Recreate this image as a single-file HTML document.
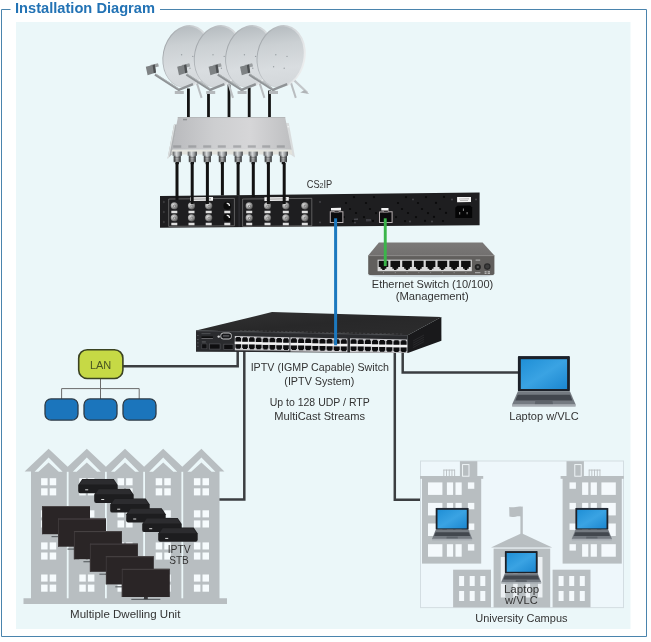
<!DOCTYPE html>
<html>
<head>
<meta charset="utf-8">
<title>Installation Diagram</title>
<style>
html,body{margin:0;padding:0;background:#fff;}
body{width:651px;height:642px;overflow:hidden;position:relative;font-family:"Liberation Sans",sans-serif;}
svg{position:absolute;left:0;top:0;display:block;will-change:transform;}
text{font-family:"Liberation Sans",sans-serif;}
.lbl{font-size:11.5px;fill:#3a3a3a;text-anchor:middle;}
</style>
</head>
<body>
<svg width="651" height="642" viewBox="0 0 651 642">
<defs>
<linearGradient id="scr" x1="0" y1="0" x2="1" y2="1">
<stop offset="0" stop-color="#1f8fd6"/><stop offset="0.5" stop-color="#3aa3e3"/><stop offset="1" stop-color="#1b86cf"/>
</linearGradient>
</defs>
<!-- 01_frame.svg -->
<rect x="0" y="0" width="651" height="642" fill="#ffffff"/>
<path d="M10.5 9.5 H1.5 V636.5 H646.5 V9.5 H160" fill="none" stroke="#4a84ad" stroke-width="1"/>
<rect x="16" y="22" width="614.5" height="607" fill="#ebf7f9"/>
<text x="15" y="12.8" font-size="14.2" font-weight="bold" fill="#2373b5" textLength="140" lengthAdjust="spacingAndGlyphs">Installation Diagram</text>

<!-- 10_lines.svg -->
<g fill="none" stroke="#3b3e41" stroke-width="2.5" stroke-linejoin="miter">
<path d="M237.7 349 V366.3 H123"/>
<path d="M244.3 349 V499.5 H219"/>
<path d="M402.7 351 V372.6 H518"/>
<path d="M394.8 351 V499.8 H420"/>
</g>

<!-- 20_lan.svg -->
<g fill="none" stroke="#6b6b6b" stroke-width="1">
<path d="M100.5 379 V388.6 M61.6 399 V388.6 H139.2 V399 M100.5 388.6 V399"/>
</g>
<rect x="78.7" y="349.7" width="44.2" height="28.8" rx="8.5" ry="8.5" fill="#c6d945" stroke="#3b4322" stroke-width="1.6"/>
<text x="100.6" y="369" font-size="11" fill="#4a5522" text-anchor="middle">LAN</text>
<g fill="#1b75bc" stroke="#2b3a47" stroke-width="1.3">
<rect x="45" y="398.9" width="33" height="21.2" rx="6" ry="6"/>
<rect x="84" y="398.9" width="33" height="21.2" rx="6" ry="6"/>
<rect x="123" y="398.9" width="33" height="21.2" rx="6" ry="6"/>
</g>

<!-- 30_mdu.svg -->
<g>
<polygon points="24.6,471.6 48.6,448.8 67.7,466.7 86.8,448.8 105.9,466.7 125.0,448.8 144.1,466.7 163.2,448.8 182.3,466.7 201.4,448.8 224.4,471.6 219.5,471.6 219.5,598.3 227.0,598.3 227.0,604.0 23.5,604.0 23.5,598.3 31.0,598.3 31.0,471.6" fill="#b8bec1"/>
<polygon points="34.6,471.8 48.6,457.6 62.6,471.8 58.8,471.8 48.6,462.5 38.4,471.8" fill="#ebf7f9"/>
<polygon points="72.8,471.8 86.8,457.6 100.8,471.8 97.0,471.8 86.8,462.5 76.6,471.8" fill="#ebf7f9"/>
<polygon points="111.0,471.8 125.0,457.6 139.0,471.8 135.2,471.8 125.0,462.5 114.8,471.8" fill="#ebf7f9"/>
<polygon points="149.2,471.8 163.2,457.6 177.2,471.8 173.4,471.8 163.2,462.5 153.0,471.8" fill="#ebf7f9"/>
<polygon points="187.4,471.8 201.4,457.6 215.4,471.8 211.6,471.8 201.4,462.5 191.2,471.8" fill="#ebf7f9"/>
<rect x="66.8" y="471.8" width="1.8" height="126.5" fill="#ebf7f9"/>
<rect x="105.0" y="471.8" width="1.8" height="126.5" fill="#ebf7f9"/>
<rect x="143.2" y="471.8" width="1.8" height="126.5" fill="#ebf7f9"/>
<rect x="181.4" y="471.8" width="1.8" height="126.5" fill="#ebf7f9"/>
<rect x="41.1" y="478.2" width="6.5" height="7.1" fill="#f6fbfd"/>
<rect x="41.1" y="488.3" width="6.5" height="7.1" fill="#f6fbfd"/>
<rect x="49.7" y="478.2" width="6.5" height="7.1" fill="#f6fbfd"/>
<rect x="49.7" y="488.3" width="6.5" height="7.1" fill="#f6fbfd"/>
<rect x="41.1" y="510.3" width="6.5" height="7.1" fill="#f6fbfd"/>
<rect x="41.1" y="520.4" width="6.5" height="7.1" fill="#f6fbfd"/>
<rect x="49.7" y="510.3" width="6.5" height="7.1" fill="#f6fbfd"/>
<rect x="49.7" y="520.4" width="6.5" height="7.1" fill="#f6fbfd"/>
<rect x="41.1" y="542.4" width="6.5" height="7.1" fill="#f6fbfd"/>
<rect x="41.1" y="552.5" width="6.5" height="7.1" fill="#f6fbfd"/>
<rect x="49.7" y="542.4" width="6.5" height="7.1" fill="#f6fbfd"/>
<rect x="49.7" y="552.5" width="6.5" height="7.1" fill="#f6fbfd"/>
<rect x="41.1" y="574.5" width="6.5" height="7.1" fill="#f6fbfd"/>
<rect x="41.1" y="584.6" width="6.5" height="7.1" fill="#f6fbfd"/>
<rect x="49.7" y="574.5" width="6.5" height="7.1" fill="#f6fbfd"/>
<rect x="49.7" y="584.6" width="6.5" height="7.1" fill="#f6fbfd"/>
<rect x="79.3" y="478.2" width="6.5" height="7.1" fill="#f6fbfd"/>
<rect x="79.3" y="488.3" width="6.5" height="7.1" fill="#f6fbfd"/>
<rect x="87.9" y="478.2" width="6.5" height="7.1" fill="#f6fbfd"/>
<rect x="87.9" y="488.3" width="6.5" height="7.1" fill="#f6fbfd"/>
<rect x="79.3" y="510.3" width="6.5" height="7.1" fill="#f6fbfd"/>
<rect x="79.3" y="520.4" width="6.5" height="7.1" fill="#f6fbfd"/>
<rect x="87.9" y="510.3" width="6.5" height="7.1" fill="#f6fbfd"/>
<rect x="87.9" y="520.4" width="6.5" height="7.1" fill="#f6fbfd"/>
<rect x="79.3" y="542.4" width="6.5" height="7.1" fill="#f6fbfd"/>
<rect x="79.3" y="552.5" width="6.5" height="7.1" fill="#f6fbfd"/>
<rect x="87.9" y="542.4" width="6.5" height="7.1" fill="#f6fbfd"/>
<rect x="87.9" y="552.5" width="6.5" height="7.1" fill="#f6fbfd"/>
<rect x="79.3" y="574.5" width="6.5" height="7.1" fill="#f6fbfd"/>
<rect x="79.3" y="584.6" width="6.5" height="7.1" fill="#f6fbfd"/>
<rect x="87.9" y="574.5" width="6.5" height="7.1" fill="#f6fbfd"/>
<rect x="87.9" y="584.6" width="6.5" height="7.1" fill="#f6fbfd"/>
<rect x="117.5" y="478.2" width="6.5" height="7.1" fill="#f6fbfd"/>
<rect x="117.5" y="488.3" width="6.5" height="7.1" fill="#f6fbfd"/>
<rect x="126.1" y="478.2" width="6.5" height="7.1" fill="#f6fbfd"/>
<rect x="126.1" y="488.3" width="6.5" height="7.1" fill="#f6fbfd"/>
<rect x="117.5" y="510.3" width="6.5" height="7.1" fill="#f6fbfd"/>
<rect x="117.5" y="520.4" width="6.5" height="7.1" fill="#f6fbfd"/>
<rect x="126.1" y="510.3" width="6.5" height="7.1" fill="#f6fbfd"/>
<rect x="126.1" y="520.4" width="6.5" height="7.1" fill="#f6fbfd"/>
<rect x="117.5" y="542.4" width="6.5" height="7.1" fill="#f6fbfd"/>
<rect x="117.5" y="552.5" width="6.5" height="7.1" fill="#f6fbfd"/>
<rect x="126.1" y="542.4" width="6.5" height="7.1" fill="#f6fbfd"/>
<rect x="126.1" y="552.5" width="6.5" height="7.1" fill="#f6fbfd"/>
<rect x="117.5" y="574.5" width="6.5" height="7.1" fill="#f6fbfd"/>
<rect x="117.5" y="584.6" width="6.5" height="7.1" fill="#f6fbfd"/>
<rect x="126.1" y="574.5" width="6.5" height="7.1" fill="#f6fbfd"/>
<rect x="126.1" y="584.6" width="6.5" height="7.1" fill="#f6fbfd"/>
<rect x="155.7" y="478.2" width="6.5" height="7.1" fill="#f6fbfd"/>
<rect x="155.7" y="488.3" width="6.5" height="7.1" fill="#f6fbfd"/>
<rect x="164.3" y="478.2" width="6.5" height="7.1" fill="#f6fbfd"/>
<rect x="164.3" y="488.3" width="6.5" height="7.1" fill="#f6fbfd"/>
<rect x="155.7" y="510.3" width="6.5" height="7.1" fill="#f6fbfd"/>
<rect x="155.7" y="520.4" width="6.5" height="7.1" fill="#f6fbfd"/>
<rect x="164.3" y="510.3" width="6.5" height="7.1" fill="#f6fbfd"/>
<rect x="164.3" y="520.4" width="6.5" height="7.1" fill="#f6fbfd"/>
<rect x="155.7" y="542.4" width="6.5" height="7.1" fill="#f6fbfd"/>
<rect x="155.7" y="552.5" width="6.5" height="7.1" fill="#f6fbfd"/>
<rect x="164.3" y="542.4" width="6.5" height="7.1" fill="#f6fbfd"/>
<rect x="164.3" y="552.5" width="6.5" height="7.1" fill="#f6fbfd"/>
<rect x="155.7" y="574.5" width="6.5" height="7.1" fill="#f6fbfd"/>
<rect x="155.7" y="584.6" width="6.5" height="7.1" fill="#f6fbfd"/>
<rect x="164.3" y="574.5" width="6.5" height="7.1" fill="#f6fbfd"/>
<rect x="164.3" y="584.6" width="6.5" height="7.1" fill="#f6fbfd"/>
<rect x="193.9" y="478.2" width="6.5" height="7.1" fill="#f6fbfd"/>
<rect x="193.9" y="488.3" width="6.5" height="7.1" fill="#f6fbfd"/>
<rect x="202.5" y="478.2" width="6.5" height="7.1" fill="#f6fbfd"/>
<rect x="202.5" y="488.3" width="6.5" height="7.1" fill="#f6fbfd"/>
<rect x="193.9" y="510.3" width="6.5" height="7.1" fill="#f6fbfd"/>
<rect x="193.9" y="520.4" width="6.5" height="7.1" fill="#f6fbfd"/>
<rect x="202.5" y="510.3" width="6.5" height="7.1" fill="#f6fbfd"/>
<rect x="202.5" y="520.4" width="6.5" height="7.1" fill="#f6fbfd"/>
<rect x="193.9" y="542.4" width="6.5" height="7.1" fill="#f6fbfd"/>
<rect x="193.9" y="552.5" width="6.5" height="7.1" fill="#f6fbfd"/>
<rect x="202.5" y="542.4" width="6.5" height="7.1" fill="#f6fbfd"/>
<rect x="202.5" y="552.5" width="6.5" height="7.1" fill="#f6fbfd"/>
<rect x="193.9" y="574.5" width="6.5" height="7.1" fill="#f6fbfd"/>
<rect x="193.9" y="584.6" width="6.5" height="7.1" fill="#f6fbfd"/>
<rect x="202.5" y="574.5" width="6.5" height="7.1" fill="#f6fbfd"/>
<rect x="202.5" y="584.6" width="6.5" height="7.1" fill="#f6fbfd"/>
<path d="M82.2 479.0 H113.7 L117.7 485.0 V491.0 Q117.7 493.2 115.7 493.2 H80.2 Q78.2 493.2 78.2 491.0 V485.0 Z" fill="#1d1d1f"/>
<path d="M82.7 479.6 H113.2 L116.5 484.6 H79.4 Z" fill="#2c2c2f"/>
<rect x="85.2" y="489.3" width="3" height="1" fill="#d8d8d8"/>
<path d="M98.2 488.7 H129.7 L133.7 494.7 V500.7 Q133.7 502.9 131.7 502.9 H96.2 Q94.2 502.9 94.2 500.7 V494.7 Z" fill="#1d1d1f"/>
<path d="M98.7 489.3 H129.2 L132.5 494.3 H95.4 Z" fill="#2c2c2f"/>
<rect x="101.2" y="499.0" width="3" height="1" fill="#d8d8d8"/>
<path d="M114.2 498.4 H145.7 L149.7 504.4 V510.4 Q149.7 512.6 147.7 512.6 H112.2 Q110.2 512.6 110.2 510.4 V504.4 Z" fill="#1d1d1f"/>
<path d="M114.7 499.0 H145.2 L148.5 504.0 H111.4 Z" fill="#2c2c2f"/>
<rect x="117.2" y="508.7" width="3" height="1" fill="#d8d8d8"/>
<path d="M130.2 508.2 H161.7 L165.7 514.2 V520.2 Q165.7 522.4 163.7 522.4 H128.2 Q126.2 522.4 126.2 520.2 V514.2 Z" fill="#1d1d1f"/>
<path d="M130.7 508.8 H161.2 L164.5 513.8 H127.4 Z" fill="#2c2c2f"/>
<rect x="133.2" y="518.5" width="3" height="1" fill="#d8d8d8"/>
<path d="M146.2 517.9 H177.7 L181.7 523.9 V529.9 Q181.7 532.1 179.7 532.1 H144.2 Q142.2 532.1 142.2 529.9 V523.9 Z" fill="#1d1d1f"/>
<path d="M146.7 518.5 H177.2 L180.5 523.5 H143.4 Z" fill="#2c2c2f"/>
<rect x="149.2" y="528.2" width="3" height="1" fill="#d8d8d8"/>
<path d="M162.2 527.6 H193.7 L197.7 533.6 V539.6 Q197.7 541.8 195.7 541.8 H160.2 Q158.2 541.8 158.2 539.6 V533.6 Z" fill="#1d1d1f"/>
<path d="M162.7 528.2 H193.2 L196.5 533.2 H159.4 Z" fill="#2c2c2f"/>
<rect x="165.2" y="537.9" width="3" height="1" fill="#d8d8d8"/>
<rect x="51.5" y="536.0" width="29" height="1.2" fill="#5f6468"/>
<rect x="64.0" y="533.5" width="4" height="3" fill="#3a3a3c"/>
<rect x="42.0" y="506.0" width="48" height="28.2" fill="#2a2526"/>
<rect x="42.0" y="506.0" width="48" height="1" fill="#4a4546"/>
<rect x="42.0" y="506.0" width="0.8" height="28.2" fill="#433e3f"/>
<rect x="67.5" y="548.5" width="29" height="1.2" fill="#5f6468"/>
<rect x="80.0" y="546.0" width="4" height="3" fill="#3a3a3c"/>
<rect x="58.0" y="518.5" width="48" height="28.2" fill="#2a2526"/>
<rect x="58.0" y="518.5" width="48" height="1" fill="#4a4546"/>
<rect x="58.0" y="518.5" width="0.8" height="28.2" fill="#433e3f"/>
<rect x="83.4" y="561.1" width="29" height="1.2" fill="#5f6468"/>
<rect x="95.9" y="558.6" width="4" height="3" fill="#3a3a3c"/>
<rect x="73.9" y="531.1" width="48" height="28.2" fill="#2a2526"/>
<rect x="73.9" y="531.1" width="48" height="1" fill="#4a4546"/>
<rect x="73.9" y="531.1" width="0.8" height="28.2" fill="#433e3f"/>
<rect x="99.4" y="573.6" width="29" height="1.2" fill="#5f6468"/>
<rect x="111.9" y="571.1" width="4" height="3" fill="#3a3a3c"/>
<rect x="89.9" y="543.6" width="48" height="28.2" fill="#2a2526"/>
<rect x="89.9" y="543.6" width="48" height="1" fill="#4a4546"/>
<rect x="89.9" y="543.6" width="0.8" height="28.2" fill="#433e3f"/>
<rect x="115.3" y="586.2" width="29" height="1.2" fill="#5f6468"/>
<rect x="127.8" y="583.7" width="4" height="3" fill="#3a3a3c"/>
<rect x="105.8" y="556.2" width="48" height="28.2" fill="#2a2526"/>
<rect x="105.8" y="556.2" width="48" height="1" fill="#4a4546"/>
<rect x="105.8" y="556.2" width="0.8" height="28.2" fill="#433e3f"/>
<rect x="131.3" y="598.8" width="29" height="1.2" fill="#5f6468"/>
<rect x="143.8" y="596.2" width="4" height="3" fill="#3a3a3c"/>
<rect x="121.8" y="568.8" width="48" height="28.2" fill="#2a2526"/>
<rect x="121.8" y="568.8" width="48" height="1" fill="#4a4546"/>
<rect x="121.8" y="568.8" width="0.8" height="28.2" fill="#433e3f"/>
</g>

<!-- 40_campus.svg -->
<g>
<rect x="420.5" y="461" width="203" height="146.6" fill="#eef7fb" stroke="#d3dde2" stroke-width="1"/>
<rect x="422.0" y="478.0" width="59.2" height="85.6" fill="#b8bec1"/>
<rect x="420.0" y="476.0" width="63.2" height="2.8" fill="#b8bec1"/>
<rect x="459.9" y="461.2" width="17.4" height="15.0" fill="#b8bec1"/>
<rect x="462.6" y="464.6" width="6.4" height="11.6" fill="none" stroke="#f4f9fc" stroke-width="0.9"/>
<rect x="443.4" y="469.6" width="11.6" height="0.9" fill="#b8bec1"/>
<rect x="443.4" y="469.6" width="0.9" height="6.6" fill="#b8bec1"/>
<rect x="446.1" y="469.6" width="0.9" height="6.6" fill="#b8bec1"/>
<rect x="448.8" y="469.6" width="0.9" height="6.6" fill="#b8bec1"/>
<rect x="451.5" y="469.6" width="0.9" height="6.6" fill="#b8bec1"/>
<rect x="454.2" y="469.6" width="0.9" height="6.6" fill="#b8bec1"/>
<rect x="428.0" y="482.4" width="14.4" height="12.5" fill="#f4f9fc"/>
<rect x="446.9" y="482.4" width="6.2" height="12.5" fill="#f4f9fc"/>
<rect x="455.5" y="482.4" width="6.2" height="12.5" fill="#f4f9fc"/>
<rect x="467.9" y="482.4" width="6.4" height="6.4" fill="#f4f9fc"/>
<rect x="428.0" y="502.9" width="14.4" height="12.5" fill="#f4f9fc"/>
<rect x="446.9" y="502.9" width="6.2" height="12.5" fill="#f4f9fc"/>
<rect x="455.5" y="502.9" width="6.2" height="12.5" fill="#f4f9fc"/>
<rect x="467.9" y="502.9" width="6.4" height="6.4" fill="#f4f9fc"/>
<rect x="428.0" y="523.5" width="14.4" height="12.5" fill="#f4f9fc"/>
<rect x="446.9" y="523.5" width="6.2" height="12.5" fill="#f4f9fc"/>
<rect x="455.5" y="523.5" width="6.2" height="12.5" fill="#f4f9fc"/>
<rect x="467.9" y="523.5" width="6.4" height="6.4" fill="#f4f9fc"/>
<rect x="428.0" y="544.2" width="14.4" height="12.5" fill="#f4f9fc"/>
<rect x="446.9" y="544.2" width="6.2" height="12.5" fill="#f4f9fc"/>
<rect x="455.5" y="544.2" width="6.2" height="12.5" fill="#f4f9fc"/>
<rect x="467.9" y="544.2" width="6.4" height="6.4" fill="#f4f9fc"/>
<rect x="562.6" y="478.0" width="59.2" height="85.6" fill="#b8bec1"/>
<rect x="560.6" y="476.0" width="63.2" height="2.8" fill="#b8bec1"/>
<rect x="566.5" y="461.2" width="17.4" height="15.0" fill="#b8bec1"/>
<rect x="574.8" y="464.6" width="6.4" height="11.6" fill="none" stroke="#f4f9fc" stroke-width="0.9"/>
<rect x="588.8" y="469.6" width="11.6" height="0.9" fill="#b8bec1"/>
<rect x="599.5" y="469.6" width="0.9" height="6.6" fill="#b8bec1"/>
<rect x="596.8" y="469.6" width="0.9" height="6.6" fill="#b8bec1"/>
<rect x="594.1" y="469.6" width="0.9" height="6.6" fill="#b8bec1"/>
<rect x="591.4" y="469.6" width="0.9" height="6.6" fill="#b8bec1"/>
<rect x="588.7" y="469.6" width="0.9" height="6.6" fill="#b8bec1"/>
<rect x="601.4" y="482.4" width="14.4" height="12.5" fill="#f4f9fc"/>
<rect x="590.7" y="482.4" width="6.2" height="12.5" fill="#f4f9fc"/>
<rect x="582.1" y="482.4" width="6.2" height="12.5" fill="#f4f9fc"/>
<rect x="569.5" y="482.4" width="6.4" height="6.4" fill="#f4f9fc"/>
<rect x="601.4" y="502.9" width="14.4" height="12.5" fill="#f4f9fc"/>
<rect x="590.7" y="502.9" width="6.2" height="12.5" fill="#f4f9fc"/>
<rect x="582.1" y="502.9" width="6.2" height="12.5" fill="#f4f9fc"/>
<rect x="569.5" y="502.9" width="6.4" height="6.4" fill="#f4f9fc"/>
<rect x="601.4" y="523.5" width="14.4" height="12.5" fill="#f4f9fc"/>
<rect x="590.7" y="523.5" width="6.2" height="12.5" fill="#f4f9fc"/>
<rect x="582.1" y="523.5" width="6.2" height="12.5" fill="#f4f9fc"/>
<rect x="569.5" y="523.5" width="6.4" height="6.4" fill="#f4f9fc"/>
<rect x="601.4" y="544.2" width="14.4" height="12.5" fill="#f4f9fc"/>
<rect x="590.7" y="544.2" width="6.2" height="12.5" fill="#f4f9fc"/>
<rect x="582.1" y="544.2" width="6.2" height="12.5" fill="#f4f9fc"/>
<rect x="569.5" y="544.2" width="6.4" height="6.4" fill="#f4f9fc"/>
<rect x="453.1" y="569.7" width="37.9" height="37.6" fill="#b8bec1"/>
<rect x="459.1" y="576.0" width="5" height="10" fill="#f4f9fc"/>
<rect x="459.1" y="591.0" width="5" height="10" fill="#f4f9fc"/>
<rect x="469.7" y="576.0" width="5" height="10" fill="#f4f9fc"/>
<rect x="469.7" y="591.0" width="5" height="10" fill="#f4f9fc"/>
<rect x="480.3" y="576.0" width="5" height="10" fill="#f4f9fc"/>
<rect x="480.3" y="591.0" width="5" height="10" fill="#f4f9fc"/>
<rect x="552.6" y="569.7" width="37.9" height="37.6" fill="#b8bec1"/>
<rect x="558.6" y="576.0" width="5" height="10" fill="#f4f9fc"/>
<rect x="558.6" y="591.0" width="5" height="10" fill="#f4f9fc"/>
<rect x="569.2" y="576.0" width="5" height="10" fill="#f4f9fc"/>
<rect x="569.2" y="591.0" width="5" height="10" fill="#f4f9fc"/>
<rect x="579.8" y="576.0" width="5" height="10" fill="#f4f9fc"/>
<rect x="579.8" y="591.0" width="5" height="10" fill="#f4f9fc"/>
<rect x="520.4" y="506.6" width="2.4" height="27.5" fill="#b8bec1"/>
<path d="M521 506.8 C518 505.6 514 508.2 509.2 507 L509.4 516.6 C514 517.8 518 515.2 521 516.6 Z" fill="#b8bec1"/>
<polygon points="521.6,533.2 552.2,547.4 491,547.4" fill="#b8bec1"/>
<rect x="493.6" y="548.6" width="56.6" height="58.8" fill="#b8bec1"/>
<rect x="500.8" y="557" width="4.5" height="40.5" fill="#f4f9fc" opacity="0.85"/>
<rect x="513.2" y="557" width="4.5" height="40.5" fill="#f4f9fc" opacity="0.85"/>
<rect x="525.6" y="557" width="4.5" height="40.5" fill="#f4f9fc" opacity="0.85"/>
<rect x="538.0" y="557" width="4.5" height="40.5" fill="#f4f9fc" opacity="0.85"/>
<rect x="435.7" y="507.9" width="32.9" height="21.9" rx="0.7" fill="#1c2129"/>
<rect x="436.7" y="507.9" width="30.9" height="0.5" fill="#3a4656" opacity="0.7"/>
<rect x="437.5" y="509.8" width="29.3" height="18.6" fill="url(#scr)"/>
<polygon points="435.7,529.8 468.6,529.8 472.3,539.0 432.0,539.0" fill="#747a81"/>
<polygon points="435.6,532.2 468.7,532.2 470.2,536.1 434.1,536.1" fill="#42474e"/>
<polygon points="446.7,536.4 457.6,536.4 457.9,538.7 446.4,538.7" fill="#5d636a"/>
<rect x="432.0" y="538.8" width="40.3" height="1.6" rx="0.6" fill="#a7adb3"/>
<rect x="575.4" y="507.9" width="32.9" height="21.9" rx="0.7" fill="#1c2129"/>
<rect x="576.4" y="507.9" width="30.9" height="0.5" fill="#3a4656" opacity="0.7"/>
<rect x="577.2" y="509.8" width="29.3" height="18.6" fill="url(#scr)"/>
<polygon points="575.4,529.8 608.3,529.8 612.0,539.0 571.7,539.0" fill="#747a81"/>
<polygon points="575.3,532.2 608.4,532.2 609.9,536.1 573.8,536.1" fill="#42474e"/>
<polygon points="586.4,536.4 597.3,536.4 597.6,538.7 586.1,538.7" fill="#5d636a"/>
<rect x="571.7" y="538.8" width="40.3" height="1.6" rx="0.6" fill="#a7adb3"/>
<rect x="504.9" y="551.1" width="32.7" height="22.1" rx="0.7" fill="#1c2129"/>
<rect x="505.9" y="551.1" width="30.7" height="0.5" fill="#3a4656" opacity="0.7"/>
<rect x="506.7" y="553.0" width="29.1" height="18.8" fill="url(#scr)"/>
<polygon points="504.9,573.2 537.6,573.2 541.4,582.4 501.1,582.4" fill="#747a81"/>
<polygon points="504.8,575.6 537.7,575.6 539.2,579.5 503.3,579.5" fill="#42474e"/>
<polygon points="515.9,579.8 526.6,579.8 527.0,582.1 515.5,582.1" fill="#5d636a"/>
<rect x="501.1" y="582.2" width="40.2" height="1.6" rx="0.6" fill="#a7adb3"/>
</g>

<!-- 45_laptop.svg -->
<g>
<rect x="517.9" y="356.1" width="52.0" height="35.1" rx="1.0" fill="#1c2129"/>
<rect x="519.5" y="356.1" width="48.9" height="0.7" fill="#3a4656" opacity="0.7"/>
<rect x="520.8" y="359.2" width="46.3" height="29.8" fill="url(#scr)"/>
<polygon points="517.9,391.2 569.9,391.2 575.8,404.7 512.0,404.7" fill="#747a81"/>
<polygon points="517.7,394.7 570.1,394.7 572.4,400.4 515.4,400.4" fill="#42474e"/>
<polygon points="535.3,400.9 552.5,400.9 553.0,404.3 534.8,404.3" fill="#5d636a"/>
<rect x="512.0" y="404.5" width="63.8" height="2.2" rx="0.6" fill="#a7adb3"/>
</g>

<!-- 50_rack.svg -->
<g>
<defs>
<radialGradient id="fcon" cx="0.4" cy="0.4" r="0.6"><stop offset="0" stop-color="#e6e6e6"/><stop offset="0.5" stop-color="#adadad"/><stop offset="1" stop-color="#5c5c5c"/></radialGradient>
</defs>
<polygon points="160,196 479.6,192.4 479.6,225.2 160,227.7" fill="#1e1e20"/>
<g transform="translate(160,0) skewY(-0.55) translate(-160,0)">
<ellipse cx="163.8" cy="202.0" rx="1" ry="1.3" fill="#3a3a3c"/>
<ellipse cx="163.8" cy="212.0" rx="1" ry="1.3" fill="#3a3a3c"/>
<ellipse cx="163.8" cy="222.0" rx="1" ry="1.3" fill="#3a3a3c"/>
<rect x="168.7" y="199.1" width="65.7" height="27.4" fill="none" stroke="#8a8a8a" stroke-width="0.6"/>
<rect x="190.2" y="197.5" width="22.8" height="3.8" fill="#f4f4f4"/>
<rect x="192.2" y="199.0" width="18.8" height="0.8" fill="#777"/>
<circle cx="174.3" cy="205.9" r="3.6" fill="url(#fcon)"/>
<circle cx="174.6" cy="206.2" r="1.5" fill="#7c7c7c"/>
<circle cx="174.6" cy="206.2" r="0.6" fill="#e8e8e8"/>
<rect x="171.3" y="210.9" width="6" height="2.4" fill="#dedede"/>
<circle cx="174.3" cy="217.9" r="3.6" fill="url(#fcon)"/>
<circle cx="174.6" cy="218.2" r="1.5" fill="#7c7c7c"/>
<circle cx="174.6" cy="218.2" r="0.6" fill="#e8e8e8"/>
<rect x="171.3" y="222.9" width="6" height="2.4" fill="#dedede"/>
<circle cx="191.5" cy="206.1" r="3.6" fill="url(#fcon)"/>
<circle cx="191.8" cy="206.4" r="1.5" fill="#7c7c7c"/>
<circle cx="191.8" cy="206.4" r="0.6" fill="#e8e8e8"/>
<rect x="188.5" y="211.1" width="6" height="2.4" fill="#dedede"/>
<circle cx="191.5" cy="218.1" r="3.6" fill="url(#fcon)"/>
<circle cx="191.8" cy="218.4" r="1.5" fill="#7c7c7c"/>
<circle cx="191.8" cy="218.4" r="0.6" fill="#e8e8e8"/>
<rect x="188.5" y="223.1" width="6" height="2.4" fill="#dedede"/>
<circle cx="208.7" cy="206.3" r="3.6" fill="url(#fcon)"/>
<circle cx="209.0" cy="206.6" r="1.5" fill="#7c7c7c"/>
<circle cx="209.0" cy="206.6" r="0.6" fill="#e8e8e8"/>
<rect x="205.7" y="211.3" width="6" height="2.4" fill="#dedede"/>
<circle cx="208.7" cy="218.3" r="3.6" fill="url(#fcon)"/>
<circle cx="209.0" cy="218.6" r="1.5" fill="#7c7c7c"/>
<circle cx="209.0" cy="218.6" r="0.6" fill="#e8e8e8"/>
<rect x="205.7" y="223.3" width="6" height="2.4" fill="#dedede"/>
<circle cx="227.3" cy="206.4" r="3.9" fill="#0c0c0c"/>
<path d="M226.7 203.4 a3.2 3.2 0 0 1 3.4 3.2 l-1.3 0 a2 2 0 0 0 -2.1 -1.9 Z" fill="#e8e8e8"/>
<rect x="224.3" y="211.4" width="6" height="2.4" fill="#dedede"/>
<circle cx="227.3" cy="218.4" r="3.9" fill="#0c0c0c"/>
<path d="M226.7 215.4 a3.2 3.2 0 0 1 3.4 3.2 l-1.3 0 a2 2 0 0 0 -2.1 -1.9 Z" fill="#e8e8e8"/>
<rect x="224.3" y="223.4" width="6" height="2.4" fill="#dedede"/>
<rect x="242.6" y="199.8" width="69.2" height="27.4" fill="none" stroke="#8a8a8a" stroke-width="0.6"/>
<rect x="264.4" y="198.2" width="24.4" height="3.8" fill="#f4f4f4"/>
<rect x="266.4" y="199.7" width="20.4" height="0.8" fill="#777"/>
<circle cx="249.2" cy="206.7" r="3.6" fill="url(#fcon)"/>
<circle cx="249.5" cy="207.0" r="1.5" fill="#7c7c7c"/>
<circle cx="249.5" cy="207.0" r="0.6" fill="#e8e8e8"/>
<rect x="246.2" y="211.7" width="6" height="2.4" fill="#dedede"/>
<circle cx="249.2" cy="218.7" r="3.6" fill="url(#fcon)"/>
<circle cx="249.5" cy="219.0" r="1.5" fill="#7c7c7c"/>
<circle cx="249.5" cy="219.0" r="0.6" fill="#e8e8e8"/>
<rect x="246.2" y="223.7" width="6" height="2.4" fill="#dedede"/>
<circle cx="267.5" cy="206.8" r="3.6" fill="url(#fcon)"/>
<circle cx="267.8" cy="207.1" r="1.5" fill="#7c7c7c"/>
<circle cx="267.8" cy="207.1" r="0.6" fill="#e8e8e8"/>
<rect x="264.5" y="211.8" width="6" height="2.4" fill="#dedede"/>
<circle cx="267.5" cy="218.8" r="3.6" fill="url(#fcon)"/>
<circle cx="267.8" cy="219.1" r="1.5" fill="#7c7c7c"/>
<circle cx="267.8" cy="219.1" r="0.6" fill="#e8e8e8"/>
<rect x="264.5" y="223.8" width="6" height="2.4" fill="#dedede"/>
<circle cx="285.8" cy="207.0" r="3.6" fill="url(#fcon)"/>
<circle cx="286.1" cy="207.3" r="1.5" fill="#7c7c7c"/>
<circle cx="286.1" cy="207.3" r="0.6" fill="#e8e8e8"/>
<rect x="282.8" y="212.0" width="6" height="2.4" fill="#dedede"/>
<circle cx="285.8" cy="219.0" r="3.6" fill="url(#fcon)"/>
<circle cx="286.1" cy="219.3" r="1.5" fill="#7c7c7c"/>
<circle cx="286.1" cy="219.3" r="0.6" fill="#e8e8e8"/>
<rect x="282.8" y="224.0" width="6" height="2.4" fill="#dedede"/>
<circle cx="304.8" cy="207.2" r="3.6" fill="url(#fcon)"/>
<circle cx="305.1" cy="207.5" r="1.5" fill="#7c7c7c"/>
<circle cx="305.1" cy="207.5" r="0.6" fill="#e8e8e8"/>
<rect x="301.8" y="212.2" width="6" height="2.4" fill="#dedede"/>
<circle cx="304.8" cy="219.2" r="3.6" fill="url(#fcon)"/>
<circle cx="305.1" cy="219.5" r="1.5" fill="#7c7c7c"/>
<circle cx="305.1" cy="219.5" r="0.6" fill="#e8e8e8"/>
<rect x="301.8" y="224.2" width="6" height="2.4" fill="#dedede"/>
<rect x="238.6" y="196.5" width="1" height="31" fill="#34343a"/>
<circle cx="346.0" cy="204.8" r="1.1" fill="#0a0a0a"/>
<circle cx="354.0" cy="198.9" r="1.1" fill="#0a0a0a"/>
<circle cx="350.0" cy="210.8" r="1.1" fill="#0a0a0a"/>
<circle cx="356.0" cy="214.9" r="1.1" fill="#0a0a0a"/>
<circle cx="344.0" cy="218.8" r="1.1" fill="#0a0a0a"/>
<circle cx="353.0" cy="222.9" r="1.1" fill="#0a0a0a"/>
<circle cx="366.0" cy="205.0" r="1.1" fill="#0a0a0a"/>
<circle cx="374.0" cy="199.1" r="1.1" fill="#0a0a0a"/>
<circle cx="370.0" cy="211.0" r="1.1" fill="#0a0a0a"/>
<circle cx="376.0" cy="215.1" r="1.1" fill="#0a0a0a"/>
<circle cx="364.0" cy="219.0" r="1.1" fill="#0a0a0a"/>
<circle cx="373.0" cy="223.0" r="1.1" fill="#0a0a0a"/>
<circle cx="398.0" cy="205.3" r="1.1" fill="#0a0a0a"/>
<circle cx="406.0" cy="199.4" r="1.1" fill="#0a0a0a"/>
<circle cx="402.0" cy="211.3" r="1.1" fill="#0a0a0a"/>
<circle cx="408.0" cy="215.4" r="1.1" fill="#0a0a0a"/>
<circle cx="396.0" cy="219.3" r="1.1" fill="#0a0a0a"/>
<circle cx="405.0" cy="223.4" r="1.1" fill="#0a0a0a"/>
<circle cx="418.0" cy="205.5" r="1.1" fill="#0a0a0a"/>
<circle cx="426.0" cy="199.6" r="1.1" fill="#0a0a0a"/>
<circle cx="422.0" cy="211.5" r="1.1" fill="#0a0a0a"/>
<circle cx="428.0" cy="215.6" r="1.1" fill="#0a0a0a"/>
<circle cx="416.0" cy="219.5" r="1.1" fill="#0a0a0a"/>
<circle cx="425.0" cy="223.5" r="1.1" fill="#0a0a0a"/>
<circle cx="436.0" cy="205.6" r="1.1" fill="#0a0a0a"/>
<circle cx="444.0" cy="199.7" r="1.1" fill="#0a0a0a"/>
<circle cx="440.0" cy="211.7" r="1.1" fill="#0a0a0a"/>
<circle cx="446.0" cy="215.7" r="1.1" fill="#0a0a0a"/>
<circle cx="434.0" cy="219.6" r="1.1" fill="#0a0a0a"/>
<circle cx="443.0" cy="223.7" r="1.1" fill="#0a0a0a"/>
<circle cx="320.0" cy="203.5" r="0.9" fill="#4a4a4e"/>
<circle cx="452.0" cy="202.3" r="0.9" fill="#4a4a4e"/>
<circle cx="476.0" cy="202.5" r="0.9" fill="#4a4a4e"/>
<circle cx="413.0" cy="201.9" r="0.9" fill="#4a4a4e"/>
<circle cx="320.0" cy="224.0" r="0.9" fill="#4a4a4e"/>
<circle cx="355.0" cy="224.4" r="0.9" fill="#4a4a4e"/>
<circle cx="410.0" cy="223.9" r="0.9" fill="#4a4a4e"/>
<circle cx="432.0" cy="224.1" r="0.9" fill="#4a4a4e"/>
<rect x="354" y="220.5" width="4" height="1.2" fill="#55555a"/>
<rect x="366" y="221" width="5" height="2.4" fill="#3c3c42"/>
<rect x="331.0" y="209.6" width="10.0" height="2.6" fill="#f2f2f2"/>
<rect x="330.3" y="213.5" width="12.6" height="10.7" fill="#0b0b0d" stroke="#b9b1b3" stroke-width="1"/>
<rect x="334.1" y="212.2" width="5" height="2" fill="#0b0b0d"/>
<path d="M334.1 212.2 h5 v1.6 h-5 Z" fill="none" stroke="#b9b1b3" stroke-width="0.7"/>
<rect x="381.3" y="210.1" width="7.2" height="2.6" fill="#f2f2f2"/>
<rect x="379.5" y="214.0" width="12.6" height="10.7" fill="#0b0b0d" stroke="#b9b1b3" stroke-width="1"/>
<rect x="383.3" y="212.7" width="5" height="2" fill="#0b0b0d"/>
<path d="M383.3 212.7 h5 v1.6 h-5 Z" fill="none" stroke="#b9b1b3" stroke-width="0.7"/>
<rect x="457.1" y="199.9" width="13.9" height="5.2" fill="#f4f4f4"/>
<rect x="459" y="201.5" width="10" height="0.7" fill="#999"/>
<rect x="460" y="203.2" width="8" height="0.7" fill="#aaa"/>
<path d="M457.3 208.6 h12.9 l2 2 v10.3 h-16.9 v-10.3 Z" fill="#050506"/>
<rect x="462.9" y="211.5" width="1" height="2.4" fill="#8a8a8a"/>
<rect x="459.2" y="214.9" width="1" height="2.4" fill="#8a8a8a"/>
<rect x="466.6" y="214.9" width="1" height="2.4" fill="#8a8a8a"/>
</g>
<rect x="175.5" y="163" width="3" height="37.0" fill="#121212"/>
<rect x="190.7" y="163" width="3" height="41.0" fill="#121212"/>
<rect x="205.9" y="163" width="3" height="41.0" fill="#121212"/>
<rect x="220.9" y="163" width="3" height="32.5" fill="#121212"/>
<rect x="236.6" y="163" width="3" height="32.5" fill="#121212"/>
<rect x="251.8" y="163" width="3" height="34.0" fill="#121212"/>
<rect x="266.9" y="163" width="3" height="41.0" fill="#121212"/>
<rect x="282.7" y="163" width="3" height="41.0" fill="#121212"/>
</g>

<!-- 60_dish.svg -->
<g>
<defs>
<linearGradient id="dishg" x1="0.35" y1="0" x2="0.6" y2="1"><stop offset="0" stop-color="#b6bcc0"/><stop offset="0.3" stop-color="#cbd0d3"/><stop offset="0.7" stop-color="#d9dde0"/><stop offset="1" stop-color="#d3d7da"/></linearGradient>
<linearGradient id="dishr" x1="0" y1="0.45" x2="1" y2="0.55"><stop offset="0" stop-color="#a4a9ad"/><stop offset="0.5" stop-color="#cdd1d4"/><stop offset="1" stop-color="#eceeef"/></linearGradient>
<linearGradient id="msw" x1="0" y1="0" x2="1" y2="0"><stop offset="0" stop-color="#b9babd"/><stop offset="0.35" stop-color="#cdced0"/><stop offset="0.65" stop-color="#d6d6d8"/><stop offset="1" stop-color="#bebfc1"/></linearGradient>
<linearGradient id="conn" x1="0" y1="0" x2="1" y2="0"><stop offset="0" stop-color="#55585a"/><stop offset="0.4" stop-color="#d8dadb"/><stop offset="0.7" stop-color="#9a9d9f"/><stop offset="1" stop-color="#3d3f41"/></linearGradient>
<linearGradient id="conn2" x1="0" y1="0" x2="1" y2="0"><stop offset="0" stop-color="#2f3132"/><stop offset="0.45" stop-color="#c9cbcc"/><stop offset="0.75" stop-color="#7b7e80"/><stop offset="1" stop-color="#222324"/></linearGradient>
</defs>
<rect x="187.0" y="88.5" width="2.8" height="29.0" fill="#141414"/>
<rect x="207.1" y="92.5" width="2.8" height="25.0" fill="#141414"/>
<rect x="227.6" y="84.5" width="2.8" height="33.0" fill="#141414"/>
<rect x="247.8" y="87.5" width="2.8" height="30.0" fill="#141414"/>
<rect x="268.1" y="90.5" width="2.8" height="27.0" fill="#141414"/>
<path d="M196.8 82.9 L201.6 97.9" stroke="#b9bdc0" stroke-width="2" fill="none"/>
<path d="M200.0 80.4 L213.2 92.7" stroke="#c3c7ca" stroke-width="2.2" fill="none"/>
<path d="M206.0 92.6 L215.0 94.0 L210.5 89.9 Z" fill="#b0b4b7"/>
<rect x="174.8" y="91.0" width="9" height="3" fill="#b4b8bb"/>
<ellipse cx="187.0" cy="56.4" rx="24.3" ry="31.6" transform="rotate(11.5 187.0 56.4)" fill="url(#dishr)"/>
<ellipse cx="186.4" cy="56.6" rx="22.8" ry="30.3" transform="rotate(11.5 186.4 56.6)" fill="url(#dishg)"/>
<circle cx="181.6" cy="54.8" r="0.7" fill="#9aa0a4"/>
<circle cx="192.8" cy="56.4" r="0.7" fill="#9aa0a4"/>
<circle cx="179.4" cy="66.8" r="0.7" fill="#9aa0a4"/>
<circle cx="190.0" cy="68.2" r="0.7" fill="#9aa0a4"/>
<path d="M155.0 74.6 L178.7 89.8 L193.0 84.2" stroke="#8f9396" stroke-width="2.4" fill="none" stroke-linejoin="round"/>
<path d="M155.6 73.8 L178.7 88.8" stroke="#b3b7b9" stroke-width="0.8" fill="none"/>
<path d="M150.4 65.0 l6.6 -1.6 q1.2 -0.2 1.4 1 l0.4 2 l-7.6 1.8 Z" fill="#9b9fa1"/>
<path d="M145.8 66.8 l9 -2.2 l1.2 8 l-8.4 2.6 Z" fill="#7e8284"/>
<path d="M152.6 65.2 l2.2 -0.6 l1.2 8 l-2.2 0.7 Z" fill="#4c4f51"/>
<path d="M228.2 82.9 L233.0 97.9" stroke="#b9bdc0" stroke-width="2" fill="none"/>
<path d="M231.4 80.4 L244.6 92.7" stroke="#c3c7ca" stroke-width="2.2" fill="none"/>
<path d="M237.4 92.6 L246.4 94.0 L241.9 89.9 Z" fill="#b0b4b7"/>
<rect x="206.2" y="91.0" width="9" height="3" fill="#b4b8bb"/>
<ellipse cx="218.4" cy="56.4" rx="24.3" ry="31.6" transform="rotate(11.5 218.4 56.4)" fill="url(#dishr)"/>
<ellipse cx="217.8" cy="56.6" rx="22.8" ry="30.3" transform="rotate(11.5 217.8 56.6)" fill="url(#dishg)"/>
<circle cx="213.0" cy="54.8" r="0.7" fill="#9aa0a4"/>
<circle cx="224.2" cy="56.4" r="0.7" fill="#9aa0a4"/>
<circle cx="210.8" cy="66.8" r="0.7" fill="#9aa0a4"/>
<circle cx="221.4" cy="68.2" r="0.7" fill="#9aa0a4"/>
<path d="M186.4 74.6 L210.1 89.8 L224.4 84.2" stroke="#8f9396" stroke-width="2.4" fill="none" stroke-linejoin="round"/>
<path d="M187.0 73.8 L210.1 88.8" stroke="#b3b7b9" stroke-width="0.8" fill="none"/>
<path d="M181.8 65.0 l6.6 -1.6 q1.2 -0.2 1.4 1 l0.4 2 l-7.6 1.8 Z" fill="#9b9fa1"/>
<path d="M177.2 66.8 l9 -2.2 l1.2 8 l-8.4 2.6 Z" fill="#7e8284"/>
<path d="M184.0 65.2 l2.2 -0.6 l1.2 8 l-2.2 0.7 Z" fill="#4c4f51"/>
<path d="M259.6 82.9 L264.4 97.9" stroke="#b9bdc0" stroke-width="2" fill="none"/>
<path d="M262.8 80.4 L276.0 92.7" stroke="#c3c7ca" stroke-width="2.2" fill="none"/>
<path d="M268.8 92.6 L277.8 94.0 L273.3 89.9 Z" fill="#b0b4b7"/>
<rect x="237.6" y="91.0" width="9" height="3" fill="#b4b8bb"/>
<ellipse cx="249.8" cy="56.4" rx="24.3" ry="31.6" transform="rotate(11.5 249.8 56.4)" fill="url(#dishr)"/>
<ellipse cx="249.2" cy="56.6" rx="22.8" ry="30.3" transform="rotate(11.5 249.2 56.6)" fill="url(#dishg)"/>
<circle cx="244.4" cy="54.8" r="0.7" fill="#9aa0a4"/>
<circle cx="255.6" cy="56.4" r="0.7" fill="#9aa0a4"/>
<circle cx="242.2" cy="66.8" r="0.7" fill="#9aa0a4"/>
<circle cx="252.8" cy="68.2" r="0.7" fill="#9aa0a4"/>
<path d="M217.8 74.6 L241.5 89.8 L255.8 84.2" stroke="#8f9396" stroke-width="2.4" fill="none" stroke-linejoin="round"/>
<path d="M218.4 73.8 L241.5 88.8" stroke="#b3b7b9" stroke-width="0.8" fill="none"/>
<path d="M213.2 65.0 l6.6 -1.6 q1.2 -0.2 1.4 1 l0.4 2 l-7.6 1.8 Z" fill="#9b9fa1"/>
<path d="M208.6 66.8 l9 -2.2 l1.2 8 l-8.4 2.6 Z" fill="#7e8284"/>
<path d="M215.4 65.2 l2.2 -0.6 l1.2 8 l-2.2 0.7 Z" fill="#4c4f51"/>
<path d="M291.0 82.9 L295.8 97.9" stroke="#b9bdc0" stroke-width="2" fill="none"/>
<path d="M294.2 80.4 L307.4 92.7" stroke="#c3c7ca" stroke-width="2.2" fill="none"/>
<path d="M300.2 92.6 L309.2 94.0 L304.7 89.9 Z" fill="#b0b4b7"/>
<rect x="269.0" y="91.0" width="9" height="3" fill="#b4b8bb"/>
<ellipse cx="281.2" cy="56.4" rx="24.3" ry="31.6" transform="rotate(11.5 281.2 56.4)" fill="url(#dishr)"/>
<ellipse cx="280.6" cy="56.6" rx="22.8" ry="30.3" transform="rotate(11.5 280.6 56.6)" fill="url(#dishg)"/>
<circle cx="275.8" cy="54.8" r="0.7" fill="#9aa0a4"/>
<circle cx="287.0" cy="56.4" r="0.7" fill="#9aa0a4"/>
<circle cx="273.6" cy="66.8" r="0.7" fill="#9aa0a4"/>
<circle cx="284.2" cy="68.2" r="0.7" fill="#9aa0a4"/>
<path d="M249.2 74.6 L272.9 89.8 L287.2 84.2" stroke="#8f9396" stroke-width="2.4" fill="none" stroke-linejoin="round"/>
<path d="M249.8 73.8 L272.9 88.8" stroke="#b3b7b9" stroke-width="0.8" fill="none"/>
<path d="M244.6 65.0 l6.6 -1.6 q1.2 -0.2 1.4 1 l0.4 2 l-7.6 1.8 Z" fill="#9b9fa1"/>
<path d="M240.0 66.8 l9 -2.2 l1.2 8 l-8.4 2.6 Z" fill="#7e8284"/>
<path d="M246.8 65.2 l2.2 -0.6 l1.2 8 l-2.2 0.7 Z" fill="#4c4f51"/>
<polygon points="174,124.6 177,124.6 172,154.6 167.6,158.6" fill="#aeb1b3"/>
<polygon points="174,124.6 175.3,124.6 169,158 167.4,158.8" fill="#dcdfe0"/>
<polygon points="286,123 288.8,123 295,157.6 290.4,154.6" fill="#d9dcdd"/>
<circle cx="288.2" cy="126.8" r="0.8" fill="#f6f8f9"/>
<polygon points="177.9,116.9 285.1,116.9 291.6,149.8 172.1,149.8" fill="url(#msw)"/>
<polygon points="177.9,116.9 285.1,116.9 285.3,117.8 177.7,117.8" fill="#b1b3b5"/>
<polygon points="172.1,149.8 291.6,149.8 292.3,154.4 171.3,154.4" fill="#e2e2dc"/>
<rect x="183" y="118.8" width="4" height="1.5" fill="#8d9092"/>
<rect x="173.2" y="145.3" width="8" height="2.4" fill="#7d8084" opacity="0.5"/>
<rect x="188.3" y="145.3" width="8" height="2.4" fill="#7d8084" opacity="0.5"/>
<rect x="203.2" y="145.3" width="8" height="2.4" fill="#7d8084" opacity="0.5"/>
<rect x="217.8" y="145.3" width="8" height="2.4" fill="#7d8084" opacity="0.5"/>
<rect x="233.2" y="145.3" width="8" height="2.4" fill="#7d8084" opacity="0.5"/>
<rect x="247.8" y="145.3" width="8" height="2.4" fill="#7d8084" opacity="0.5"/>
<rect x="262.2" y="145.3" width="8" height="2.4" fill="#7d8084" opacity="0.5"/>
<rect x="276.8" y="145.3" width="8" height="2.4" fill="#7d8084" opacity="0.5"/>
<rect x="172.6" y="151.6" width="9.2" height="4.2" fill="url(#conn)"/>
<rect x="173.7" y="155.6" width="7" height="6.6" fill="url(#conn2)"/>
<rect x="173.7" y="157.4" width="7" height="0.8" fill="#3a3c3d" opacity="0.6"/>
<rect x="173.7" y="159.6" width="7" height="0.8" fill="#3a3c3d" opacity="0.6"/>
<rect x="175.5" y="161.8" width="3.4" height="2.4" fill="#141414"/>
<rect x="187.7" y="151.6" width="9.2" height="4.2" fill="url(#conn)"/>
<rect x="188.8" y="155.6" width="7" height="6.6" fill="url(#conn2)"/>
<rect x="188.8" y="157.4" width="7" height="0.8" fill="#3a3c3d" opacity="0.6"/>
<rect x="188.8" y="159.6" width="7" height="0.8" fill="#3a3c3d" opacity="0.6"/>
<rect x="190.6" y="161.8" width="3.4" height="2.4" fill="#141414"/>
<rect x="202.7" y="151.6" width="9.2" height="4.2" fill="url(#conn)"/>
<rect x="203.8" y="155.6" width="7" height="6.6" fill="url(#conn2)"/>
<rect x="203.8" y="157.4" width="7" height="0.8" fill="#3a3c3d" opacity="0.6"/>
<rect x="203.8" y="159.6" width="7" height="0.8" fill="#3a3c3d" opacity="0.6"/>
<rect x="205.6" y="161.8" width="3.4" height="2.4" fill="#141414"/>
<rect x="217.7" y="151.6" width="9.2" height="4.2" fill="url(#conn)"/>
<rect x="218.8" y="155.6" width="7" height="6.6" fill="url(#conn2)"/>
<rect x="218.8" y="157.4" width="7" height="0.8" fill="#3a3c3d" opacity="0.6"/>
<rect x="218.8" y="159.6" width="7" height="0.8" fill="#3a3c3d" opacity="0.6"/>
<rect x="220.6" y="161.8" width="3.4" height="2.4" fill="#141414"/>
<rect x="233.6" y="151.6" width="9.2" height="4.2" fill="url(#conn)"/>
<rect x="234.7" y="155.6" width="7" height="6.6" fill="url(#conn2)"/>
<rect x="234.7" y="157.4" width="7" height="0.8" fill="#3a3c3d" opacity="0.6"/>
<rect x="234.7" y="159.6" width="7" height="0.8" fill="#3a3c3d" opacity="0.6"/>
<rect x="236.5" y="161.8" width="3.4" height="2.4" fill="#141414"/>
<rect x="248.6" y="151.6" width="9.2" height="4.2" fill="url(#conn)"/>
<rect x="249.7" y="155.6" width="7" height="6.6" fill="url(#conn2)"/>
<rect x="249.7" y="157.4" width="7" height="0.8" fill="#3a3c3d" opacity="0.6"/>
<rect x="249.7" y="159.6" width="7" height="0.8" fill="#3a3c3d" opacity="0.6"/>
<rect x="251.5" y="161.8" width="3.4" height="2.4" fill="#141414"/>
<rect x="263.6" y="151.6" width="9.2" height="4.2" fill="url(#conn)"/>
<rect x="264.7" y="155.6" width="7" height="6.6" fill="url(#conn2)"/>
<rect x="264.7" y="157.4" width="7" height="0.8" fill="#3a3c3d" opacity="0.6"/>
<rect x="264.7" y="159.6" width="7" height="0.8" fill="#3a3c3d" opacity="0.6"/>
<rect x="266.5" y="161.8" width="3.4" height="2.4" fill="#141414"/>
<rect x="278.8" y="151.6" width="9.2" height="4.2" fill="url(#conn)"/>
<rect x="279.9" y="155.6" width="7" height="6.6" fill="url(#conn2)"/>
<rect x="279.9" y="157.4" width="7" height="0.8" fill="#3a3c3d" opacity="0.6"/>
<rect x="279.9" y="159.6" width="7" height="0.8" fill="#3a3c3d" opacity="0.6"/>
<rect x="281.7" y="161.8" width="3.4" height="2.4" fill="#141414"/>
</g>

<!-- 70_esw.svg -->
<g>
<defs>
<linearGradient id="estop" x1="0" y1="0" x2="0" y2="1"><stop offset="0" stop-color="#7b7978"/><stop offset="1" stop-color="#72706f"/></linearGradient>
<linearGradient id="iptop" x1="0" y1="0" x2="1" y2="1"><stop offset="0" stop-color="#323233"/><stop offset="0.5" stop-color="#282829"/><stop offset="1" stop-color="#2c2c2d"/></linearGradient>
</defs>
<ellipse cx="431" cy="275.6" rx="63" ry="1.6" fill="#c9d3d8"/>
<polygon points="378.9,242.5 482.6,242.5 494.4,255.6 368.2,255.6" fill="url(#estop)"/>
<path d="M368.2 255.4 H494.4 V273.3 Q494.4 274.9 492.8 274.9 H369.8 Q368.2 274.9 368.2 273.3 Z" fill="#615f5d"/>
<rect x="368.2" y="255.3" width="126.2" height="0.8" fill="#8a8887"/>
<rect x="377.6" y="259.7" width="94.2" height="11.5" fill="#d9d9d9"/>
<path d="M378.70 260.80 h9.57 v6.2 h-1.9 v1.7 h-1.6 v1.4 h-2.57 v-1.4 h-1.6 v-1.7 h-1.9 Z" fill="#101010"/>
<rect x="382.99" y="272.30" width="1" height="0.8" fill="#9a9a9a"/>
<path d="M390.48 260.80 h9.57 v6.2 h-1.9 v1.7 h-1.6 v1.4 h-2.57 v-1.4 h-1.6 v-1.7 h-1.9 Z" fill="#101010"/>
<rect x="394.76" y="272.30" width="1" height="0.8" fill="#9a9a9a"/>
<path d="M402.25 260.80 h9.57 v6.2 h-1.9 v1.7 h-1.6 v1.4 h-2.57 v-1.4 h-1.6 v-1.7 h-1.9 Z" fill="#101010"/>
<rect x="406.54" y="272.30" width="1" height="0.8" fill="#9a9a9a"/>
<path d="M414.03 260.80 h9.57 v6.2 h-1.9 v1.7 h-1.6 v1.4 h-2.57 v-1.4 h-1.6 v-1.7 h-1.9 Z" fill="#101010"/>
<rect x="418.31" y="272.30" width="1" height="0.8" fill="#9a9a9a"/>
<path d="M425.80 260.80 h9.57 v6.2 h-1.9 v1.7 h-1.6 v1.4 h-2.57 v-1.4 h-1.6 v-1.7 h-1.9 Z" fill="#101010"/>
<rect x="430.09" y="272.30" width="1" height="0.8" fill="#9a9a9a"/>
<path d="M437.58 260.80 h9.57 v6.2 h-1.9 v1.7 h-1.6 v1.4 h-2.57 v-1.4 h-1.6 v-1.7 h-1.9 Z" fill="#101010"/>
<rect x="441.86" y="272.30" width="1" height="0.8" fill="#9a9a9a"/>
<path d="M449.35 260.80 h9.57 v6.2 h-1.9 v1.7 h-1.6 v1.4 h-2.57 v-1.4 h-1.6 v-1.7 h-1.9 Z" fill="#101010"/>
<rect x="453.64" y="272.30" width="1" height="0.8" fill="#9a9a9a"/>
<path d="M461.12 260.80 h9.57 v6.2 h-1.9 v1.7 h-1.6 v1.4 h-2.57 v-1.4 h-1.6 v-1.7 h-1.9 Z" fill="#101010"/>
<rect x="465.41" y="272.30" width="1" height="0.8" fill="#9a9a9a"/>
<circle cx="477.8" cy="267" r="3.1" fill="#222"/>
<circle cx="477.8" cy="267" r="1.2" fill="#555"/>
<circle cx="487.3" cy="266.6" r="3.3" fill="#2a2a2a"/>
<circle cx="487.3" cy="266.6" r="2" fill="#3d3d3d"/>
<rect x="475.6" y="259.6" width="4.6" height="1" fill="#b5b5b5"/>
<rect x="475" y="272.2" width="5.4" height="1" fill="#b5b5b5"/>
<rect x="484.6" y="271.4" width="2" height="1" fill="#dcdcdc"/>
<rect x="487.6" y="271.4" width="2.4" height="1" fill="#dcdcdc"/>
<rect x="484.6" y="273" width="2" height="0.9" fill="#bdbdbd"/>
<rect x="487.6" y="273" width="2.4" height="0.9" fill="#bdbdbd"/>
</g>

<!-- 72_iptv.svg -->
<g>
<polygon points="272,312 441.4,316.9 407.8,335.2 196,330.5" fill="url(#iptop)"/>
<polygon points="407.8,335.2 441.4,316.9 441.4,340.8 407.8,353" fill="#19191b"/>
<polygon points="196,330.5 407.8,335.2 407.8,353 196,351.7" fill="#2a2b2e"/>
<polygon points="196,330.5 407.8,335.2 407.8,336.1 196,331.4" fill="#3e3f43"/>
<path d="M413 341.0 L424 335.0" stroke="#2c2c2f" stroke-width="0.8"/>
<path d="M413 343.2 L424 337.2" stroke="#2c2c2f" stroke-width="0.8"/>
<path d="M413 345.4 L424 339.4" stroke="#2c2c2f" stroke-width="0.8"/>
<path d="M413 347.6 L424 341.6" stroke="#2c2c2f" stroke-width="0.8"/>
<rect x="240.0" y="330.2" width="2.4" height="0.7" fill="#4a4a4d"/>
<rect x="244.1" y="330.3" width="2.4" height="0.7" fill="#4a4a4d"/>
<rect x="248.2" y="330.4" width="2.4" height="0.7" fill="#4a4a4d"/>
<rect x="252.3" y="330.4" width="2.4" height="0.7" fill="#4a4a4d"/>
<rect x="256.4" y="330.5" width="2.4" height="0.7" fill="#4a4a4d"/>
<rect x="260.5" y="330.6" width="2.4" height="0.7" fill="#4a4a4d"/>
<rect x="264.6" y="330.7" width="2.4" height="0.7" fill="#4a4a4d"/>
<rect x="268.7" y="330.8" width="2.4" height="0.7" fill="#4a4a4d"/>
<rect x="272.8" y="330.9" width="2.4" height="0.7" fill="#4a4a4d"/>
<rect x="276.9" y="331.0" width="2.4" height="0.7" fill="#4a4a4d"/>
<rect x="281.0" y="331.1" width="2.4" height="0.7" fill="#4a4a4d"/>
<rect x="285.1" y="331.2" width="2.4" height="0.7" fill="#4a4a4d"/>
<rect x="289.2" y="331.3" width="2.4" height="0.7" fill="#4a4a4d"/>
<rect x="293.3" y="331.4" width="2.4" height="0.7" fill="#4a4a4d"/>
<rect x="297.4" y="331.5" width="2.4" height="0.7" fill="#4a4a4d"/>
<rect x="301.5" y="331.5" width="2.4" height="0.7" fill="#4a4a4d"/>
<rect x="305.6" y="331.6" width="2.4" height="0.7" fill="#4a4a4d"/>
<rect x="309.7" y="331.7" width="2.4" height="0.7" fill="#4a4a4d"/>
<rect x="313.8" y="331.8" width="2.4" height="0.7" fill="#4a4a4d"/>
<rect x="317.9" y="331.9" width="2.4" height="0.7" fill="#4a4a4d"/>
<rect x="322.0" y="332.0" width="2.4" height="0.7" fill="#4a4a4d"/>
<rect x="326.1" y="332.1" width="2.4" height="0.7" fill="#4a4a4d"/>
<rect x="330.2" y="332.2" width="2.4" height="0.7" fill="#4a4a4d"/>
<rect x="334.3" y="332.3" width="2.4" height="0.7" fill="#4a4a4d"/>
<rect x="338.4" y="332.4" width="2.4" height="0.7" fill="#4a4a4d"/>
<rect x="342.5" y="332.5" width="2.4" height="0.7" fill="#4a4a4d"/>
<rect x="346.6" y="332.5" width="2.4" height="0.7" fill="#4a4a4d"/>
<rect x="350.7" y="332.6" width="2.4" height="0.7" fill="#4a4a4d"/>
<rect x="354.8" y="332.7" width="2.4" height="0.7" fill="#4a4a4d"/>
<rect x="358.9" y="332.8" width="2.4" height="0.7" fill="#4a4a4d"/>
<rect x="363.0" y="332.9" width="2.4" height="0.7" fill="#4a4a4d"/>
<rect x="367.1" y="333.0" width="2.4" height="0.7" fill="#4a4a4d"/>
<rect x="371.2" y="333.1" width="2.4" height="0.7" fill="#4a4a4d"/>
<rect x="375.3" y="333.2" width="2.4" height="0.7" fill="#4a4a4d"/>
<rect x="379.4" y="333.3" width="2.4" height="0.7" fill="#4a4a4d"/>
<rect x="383.5" y="333.4" width="2.4" height="0.7" fill="#4a4a4d"/>
<rect x="387.6" y="333.5" width="2.4" height="0.7" fill="#4a4a4d"/>
<rect x="391.7" y="333.5" width="2.4" height="0.7" fill="#4a4a4d"/>
<rect x="395.8" y="333.6" width="2.4" height="0.7" fill="#4a4a4d"/>
<rect x="399.9" y="333.7" width="2.4" height="0.7" fill="#4a4a4d"/>
<rect x="201.5" y="336.4" width="11.4" height="1.7" fill="#0c0c0d"/>
<rect x="201.5" y="338" width="11.4" height="0.6" fill="#8d8d90"/>
<circle cx="218.7" cy="336.6" r="1.2" fill="#d6d6d8"/>
<rect x="220.8" y="333" width="10.6" height="6" rx="2.4" fill="#17171a" stroke="#c4c4c6" stroke-width="1"/>
<rect x="223" y="335.2" width="6.2" height="1.4" fill="#5d5d61"/>
<rect x="201.8" y="343.9" width="5.1" height="4.9" fill="#0e0e10" stroke="#4d4d52" stroke-width="0.6"/>
<rect x="209.4" y="343.9" width="10.7" height="5.2" fill="#0e0e10" stroke="#55555a" stroke-width="0.7"/>
<rect x="223.8" y="344.2" width="9.3" height="5.2" fill="#0e0e10" stroke="#55555a" stroke-width="0.7"/>
<rect x="197.4" y="335.0" width="1" height="1" fill="#6c6d72"/>
<rect x="197.4" y="339.0" width="1" height="1" fill="#6c6d72"/>
<rect x="197.4" y="342.4" width="1" height="1" fill="#6c6d72"/>
<rect x="197.4" y="345.8" width="1" height="1" fill="#6c6d72"/>
<rect x="201.5" y="333.4" width="9" height="0.7" fill="#5e5f63"/>
<rect x="201.8" y="341.6" width="4" height="0.7" fill="#77787c"/>
<polygon points="234.8,336.0 289.4,337.2 289.4,350.8 234.8,350.2" fill="#c9c9cc"/>
<polygon points="234.8,341.6 289.4,342.6 289.4,345.1 234.8,344.1" fill="#f1f1f2"/>
<path d="M236.20 337.07 h4.02 v1 h0.8 v3.5 h-5.62 v-3.5 h0.8 Z" fill="#0d0d0f"/>
<path d="M235.40 344.27 h5.62 v3.6 h-0.8 v1 h-4.02 v-1 h-0.8 Z" fill="#0d0d0f"/>
<path d="M243.03 337.22 h4.02 v1 h0.8 v3.5 h-5.62 v-3.5 h0.8 Z" fill="#0d0d0f"/>
<path d="M242.22 344.42 h5.62 v3.6 h-0.8 v1 h-4.02 v-1 h-0.8 Z" fill="#0d0d0f"/>
<path d="M249.85 337.37 h4.02 v1 h0.8 v3.5 h-5.62 v-3.5 h0.8 Z" fill="#0d0d0f"/>
<path d="M249.05 344.57 h5.62 v3.6 h-0.8 v1 h-4.02 v-1 h-0.8 Z" fill="#0d0d0f"/>
<path d="M256.68 337.52 h4.02 v1 h0.8 v3.5 h-5.62 v-3.5 h0.8 Z" fill="#0d0d0f"/>
<path d="M255.88 344.72 h5.62 v3.6 h-0.8 v1 h-4.02 v-1 h-0.8 Z" fill="#0d0d0f"/>
<path d="M263.50 337.68 h4.02 v1 h0.8 v3.5 h-5.62 v-3.5 h0.8 Z" fill="#0d0d0f"/>
<path d="M262.70 344.88 h5.62 v3.6 h-0.8 v1 h-4.02 v-1 h-0.8 Z" fill="#0d0d0f"/>
<path d="M270.33 337.83 h4.02 v1 h0.8 v3.5 h-5.62 v-3.5 h0.8 Z" fill="#0d0d0f"/>
<path d="M269.53 345.03 h5.62 v3.6 h-0.8 v1 h-4.02 v-1 h-0.8 Z" fill="#0d0d0f"/>
<path d="M277.15 337.98 h4.02 v1 h0.8 v3.5 h-5.62 v-3.5 h0.8 Z" fill="#0d0d0f"/>
<path d="M276.35 345.18 h5.62 v3.6 h-0.8 v1 h-4.02 v-1 h-0.8 Z" fill="#0d0d0f"/>
<path d="M283.98 338.13 h4.02 v1 h0.8 v3.5 h-5.62 v-3.5 h0.8 Z" fill="#0d0d0f"/>
<path d="M283.18 345.33 h5.62 v3.6 h-0.8 v1 h-4.02 v-1 h-0.8 Z" fill="#0d0d0f"/>
<polygon points="290.4,337.2 347.4,338.4 347.4,352.2 290.4,351.6" fill="#c9c9cc"/>
<polygon points="290.4,342.8 347.4,343.8 347.4,346.3 290.4,345.3" fill="#f1f1f2"/>
<path d="M291.80 338.25 h4.32 v1 h0.8 v3.5 h-5.92 v-3.5 h0.8 Z" fill="#0d0d0f"/>
<path d="M291.00 345.45 h5.92 v3.6 h-0.8 v1 h-4.32 v-1 h-0.8 Z" fill="#0d0d0f"/>
<path d="M298.93 338.40 h4.32 v1 h0.8 v3.5 h-5.92 v-3.5 h0.8 Z" fill="#0d0d0f"/>
<path d="M298.12 345.60 h5.92 v3.6 h-0.8 v1 h-4.32 v-1 h-0.8 Z" fill="#0d0d0f"/>
<path d="M306.05 338.56 h4.32 v1 h0.8 v3.5 h-5.92 v-3.5 h0.8 Z" fill="#0d0d0f"/>
<path d="M305.25 345.76 h5.92 v3.6 h-0.8 v1 h-4.32 v-1 h-0.8 Z" fill="#0d0d0f"/>
<path d="M313.18 338.72 h4.32 v1 h0.8 v3.5 h-5.92 v-3.5 h0.8 Z" fill="#0d0d0f"/>
<path d="M312.38 345.92 h5.92 v3.6 h-0.8 v1 h-4.32 v-1 h-0.8 Z" fill="#0d0d0f"/>
<path d="M320.30 338.88 h4.32 v1 h0.8 v3.5 h-5.92 v-3.5 h0.8 Z" fill="#0d0d0f"/>
<path d="M319.50 346.08 h5.92 v3.6 h-0.8 v1 h-4.32 v-1 h-0.8 Z" fill="#0d0d0f"/>
<path d="M327.43 339.04 h4.32 v1 h0.8 v3.5 h-5.92 v-3.5 h0.8 Z" fill="#0d0d0f"/>
<path d="M326.62 346.24 h5.92 v3.6 h-0.8 v1 h-4.32 v-1 h-0.8 Z" fill="#0d0d0f"/>
<path d="M334.55 339.20 h4.32 v1 h0.8 v3.5 h-5.92 v-3.5 h0.8 Z" fill="#0d0d0f"/>
<path d="M333.75 346.40 h5.92 v3.6 h-0.8 v1 h-4.32 v-1 h-0.8 Z" fill="#0d0d0f"/>
<path d="M341.68 339.35 h4.32 v1 h0.8 v3.5 h-5.92 v-3.5 h0.8 Z" fill="#0d0d0f"/>
<path d="M340.88 346.55 h5.92 v3.6 h-0.8 v1 h-4.32 v-1 h-0.8 Z" fill="#0d0d0f"/>
<polygon points="350.0,338.2 407.2,339.4 407.2,353.0 350.0,352.4" fill="#c9c9cc"/>
<polygon points="350.0,343.8 407.2,344.8 407.2,347.3 350.0,346.3" fill="#f1f1f2"/>
<path d="M351.40 339.24 h4.35 v1 h0.8 v3.5 h-5.95 v-3.5 h0.8 Z" fill="#0d0d0f"/>
<path d="M350.60 346.44 h5.95 v3.6 h-0.8 v1 h-4.35 v-1 h-0.8 Z" fill="#0d0d0f"/>
<path d="M358.55 339.40 h4.35 v1 h0.8 v3.5 h-5.95 v-3.5 h0.8 Z" fill="#0d0d0f"/>
<path d="M357.75 346.60 h5.95 v3.6 h-0.8 v1 h-4.35 v-1 h-0.8 Z" fill="#0d0d0f"/>
<path d="M365.70 339.56 h4.35 v1 h0.8 v3.5 h-5.95 v-3.5 h0.8 Z" fill="#0d0d0f"/>
<path d="M364.90 346.76 h5.95 v3.6 h-0.8 v1 h-4.35 v-1 h-0.8 Z" fill="#0d0d0f"/>
<path d="M372.85 339.72 h4.35 v1 h0.8 v3.5 h-5.95 v-3.5 h0.8 Z" fill="#0d0d0f"/>
<path d="M372.05 346.92 h5.95 v3.6 h-0.8 v1 h-4.35 v-1 h-0.8 Z" fill="#0d0d0f"/>
<path d="M380.00 339.88 h4.35 v1 h0.8 v3.5 h-5.95 v-3.5 h0.8 Z" fill="#0d0d0f"/>
<path d="M379.20 347.08 h5.95 v3.6 h-0.8 v1 h-4.35 v-1 h-0.8 Z" fill="#0d0d0f"/>
<path d="M387.15 340.04 h4.35 v1 h0.8 v3.5 h-5.95 v-3.5 h0.8 Z" fill="#0d0d0f"/>
<path d="M386.35 347.24 h5.95 v3.6 h-0.8 v1 h-4.35 v-1 h-0.8 Z" fill="#0d0d0f"/>
<path d="M394.30 340.20 h4.35 v1 h0.8 v3.5 h-5.95 v-3.5 h0.8 Z" fill="#0d0d0f"/>
<path d="M393.50 347.40 h5.95 v3.6 h-0.8 v1 h-4.35 v-1 h-0.8 Z" fill="#0d0d0f"/>
<path d="M401.45 340.36 h4.35 v1 h0.8 v3.5 h-5.95 v-3.5 h0.8 Z" fill="#0d0d0f"/>
<path d="M400.65 347.56 h5.95 v3.6 h-0.8 v1 h-4.35 v-1 h-0.8 Z" fill="#0d0d0f"/>
</g>

<!-- 80_cables.svg -->
<rect x="334.1" y="218.3" width="3" height="127" fill="#1c79bf"/>
<rect x="383.8" y="218.3" width="2.9" height="47.8" fill="#3bb54a"/>

<!-- 90_text.svg -->
<g font-size="10.8" fill="#333333" text-anchor="middle">
<text x="319.5" y="187.8" font-size="10.4" textLength="25.6" lengthAdjust="spacingAndGlyphs">CS<tspan font-size="8">2</tspan>IP</text>
<text x="432.5" y="288" textLength="121.4" lengthAdjust="spacingAndGlyphs">Ethernet Switch (10/100)</text>
<text x="432.2" y="300" textLength="73" lengthAdjust="spacingAndGlyphs">(Management)</text>
<text x="319.8" y="371" textLength="138.3" lengthAdjust="spacingAndGlyphs">IPTV (IGMP Capable) Switch</text>
<text x="319.3" y="385.2" textLength="70" lengthAdjust="spacingAndGlyphs">(IPTV System)</text>
<text x="319.7" y="405.6" textLength="100.1" lengthAdjust="spacingAndGlyphs">Up to 128 UDP / RTP</text>
<text x="319.7" y="419.9" textLength="90.7" lengthAdjust="spacingAndGlyphs">MultiCast Streams</text>
<text x="544" y="419.9" textLength="69.3" lengthAdjust="spacingAndGlyphs">Laptop w/VLC</text>
<text x="125.2" y="618" textLength="110.3" lengthAdjust="spacingAndGlyphs">Multiple Dwelling Unit</text>
<text x="521.4" y="622.3" textLength="92.2" lengthAdjust="spacingAndGlyphs">University Campus</text>
<text x="179.2" y="553" textLength="23" lengthAdjust="spacingAndGlyphs">IPTV</text>
<text x="179" y="563.6" textLength="19.6" lengthAdjust="spacingAndGlyphs">STB</text>
<text x="521.6" y="593.4" textLength="35.3" lengthAdjust="spacingAndGlyphs">Laptop</text>
<text x="521.4" y="603.8" textLength="32.6" lengthAdjust="spacingAndGlyphs">w/VLC</text>
</g>

</svg>
</body>
</html>
